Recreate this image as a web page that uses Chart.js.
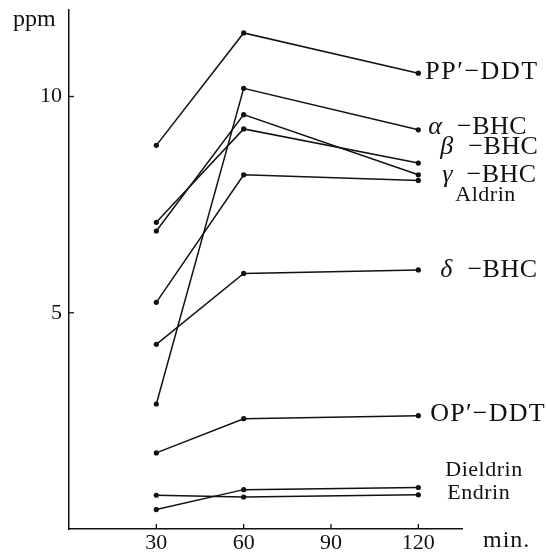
<!DOCTYPE html>
<html>
<head>
<meta charset="utf-8">
<script src="https://cdn.jsdelivr.net/npm/chart.js@4.4.0/dist/chart.umd.min.js"></script>
<style>
  html, body { margin: 0; padding: 0; background: #fff; }
  canvas { display: block; }
</style>
</head>
<body>
<canvas id="ppmChart" width="546" height="554"></canvas>
<script>
// sampling times (min.)
const times = [30, 60, 120];
const xTicks = [30, 60, 90, 120];
const yTicks = [5, 10];

// residue values (ppm)
const ppDDT = [8.87, 11.47, 10.54];
const alphaBHC = [2.89, 10.19, 9.23];
const betaBHC = [7.09, 9.25, 8.46];
const gammaBHC = [6.89, 9.58, 8.19];
const aldrin = [5.24, 8.19, 8.06];
const deltaBHC = [4.27, 5.91, 5.99];
const opDDT = [1.76, 2.55, 2.62];
const dieldrin = [0.45, 0.91, 0.96];
const endrin = [0.78, 0.74, 0.79];

const seriesList = [ppDDT, alphaBHC, betaBHC, gammaBHC, aldrin, deltaBHC, opDDT, dieldrin, endrin];

const ink = '#111';
const serif = "'Liberation Serif', 'DejaVu Serif', serif";

// labels beside the right end; y is in ppm, dx in px from the 120 min point
// part = [text, font style, gap before, letter spacing]
const seriesLabels = [
    { parts: [['PP\u2032\u2212DDT', '', 0, 1.5]], dx: 7, y: 10.56 },
    { parts: [['\u03b1', 'italic '], ['\u2212BHC', '', 15, 0.5]], dx: 10, y: 9.28 },
    { parts: [['\u03b2', 'italic '], ['\u2212BHC', '', 15, 0.5]], dx: 22, y: 8.83 },
    { parts: [['\u03b3', 'italic '], ['\u2212BHC', '', 14, 0.5]], dx: 24, y: 8.18 },
    { parts: [['Aldrin', '', 0, 0.5]], dx: 37, y: 7.72, size: 22 },
    { parts: [['\u03b4', 'italic '], ['\u2212BHC', '', 15, 0.5]], dx: 22, y: 5.98 },
    { parts: [['OP\u2032\u2212DDT', '', 0, 1.2]], dx: 12, y: 2.65 },
    { parts: [['Dieldrin', '', 0, 0.5]], dx: 27, y: 1.36, size: 22 },
    { parts: [['Endrin', '', 0, 0.5]], dx: 29, y: 0.83, size: 22 }
];

const extras = {
    id: 'extras',
    afterDraw(chart) {
        const ctx = chart.ctx;
        const xs = chart.scales.x, ys = chart.scales.y;
        const area = chart.chartArea;
        ctx.save();
        ctx.strokeStyle = ink;
        ctx.lineWidth = 1.3;
        // small ticks pointing into the plot
        for (const v of yTicks) {
            const py = ys.getPixelForValue(v);
            ctx.beginPath(); ctx.moveTo(area.left, py); ctx.lineTo(area.left + 5, py); ctx.stroke();
        }
        for (const v of xTicks) {
            const px = xs.getPixelForValue(v);
            ctx.beginPath(); ctx.moveTo(px, area.bottom); ctx.lineTo(px, area.bottom - 5); ctx.stroke();
        }
        ctx.fillStyle = ink;
        ctx.textBaseline = 'middle';
        // axis units
        ctx.font = '24px ' + serif;
        ctx.textAlign = 'left';
        ctx.fillText('ppm', 13, 20);
        ctx.letterSpacing = '1px';
        ctx.fillText('min.', 483, 541);
        // series names
        const endX = xs.getPixelForValue(times[times.length - 1]);
        for (const lab of seriesLabels) {
            let px = endX + lab.dx;
            const py = ys.getPixelForValue(lab.y);
            const size = lab.size || 26;
            for (const p of lab.parts) {
                if (p[2]) px += p[2];
                ctx.letterSpacing = (p[3] || 0) + 'px';
                ctx.font = p[1] + size + 'px ' + serif;
                ctx.fillText(p[0], px, py);
                px += ctx.measureText(p[0]).width;
            }
        }
        ctx.restore();
    }
};

const axisFont = { family: serif, size: 22 };

const ppmChart = new Chart(document.getElementById('ppmChart'), {
    type: 'line',
    data: {
        datasets: seriesList.map(function (vals) {
            return {
                data: vals.map(function (v, i) { return { x: times[i], y: v }; }),
                borderColor: ink,
                backgroundColor: ink,
                borderWidth: 1.5,
                pointRadius: 2.6,
                pointBorderWidth: 0,
                tension: 0,
                fill: false
            };
        })
    },
    options: {
        responsive: false,
        animation: false,
        devicePixelRatio: 1,
        layout: { padding: { top: 10, right: 84, left: 0, bottom: 0 } },
        plugins: { legend: { display: false }, tooltip: { enabled: false } },
        scales: {
            x: {
                type: 'linear',
                min: 0,
                max: 135,
                afterBuildTicks: function (s) { s.ticks = xTicks.map(function (v) { return { value: v }; }); },
                afterFit: function (s) { s.height = 25; s.paddingLeft = 0; s.paddingRight = 0; },
                ticks: { font: axisFont, color: ink, padding: 1, maxRotation: 0 },
                grid: { display: true, drawOnChartArea: false, drawTicks: false },
                border: { display: true, color: ink, width: 1.5 }
            },
            y: {
                min: 0,
                max: 12,
                afterBuildTicks: function (s) { s.ticks = yTicks.map(function (v) { return { value: v }; }); },
                // keep the plot top where the figure has it
                afterFit: function (s) { s.width = 69; s.paddingTop = 0; s.paddingBottom = 0; },
                ticks: { font: axisFont, color: ink, padding: 7 },
                grid: { display: true, drawOnChartArea: false, drawTicks: false },
                border: { display: true, color: ink, width: 1.5 }
            }
        }
    },
    plugins: [extras]
});
</script>
</body>
</html>
